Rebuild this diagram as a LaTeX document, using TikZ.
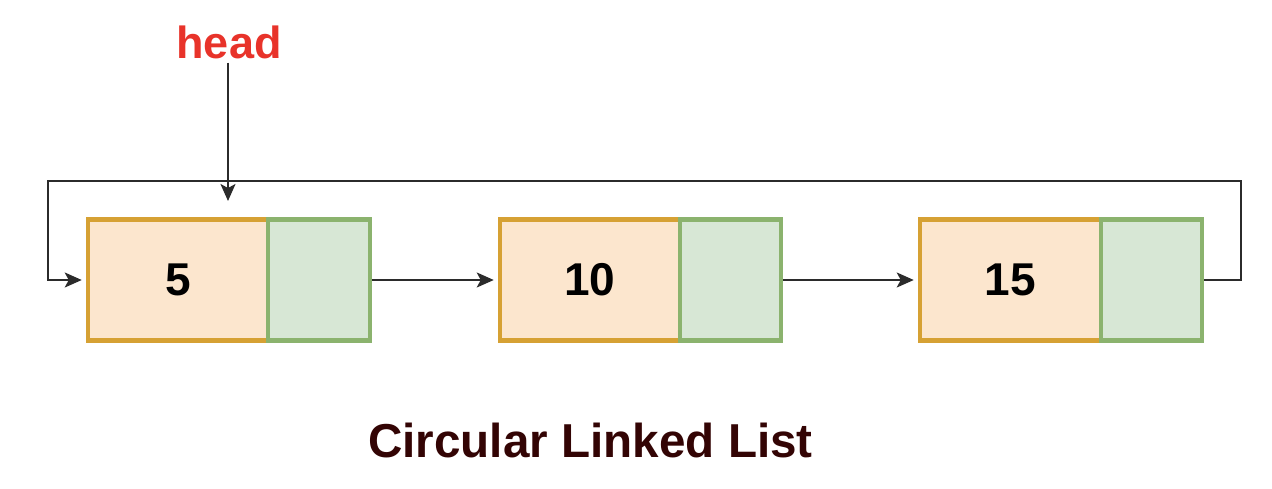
\documentclass[tikz,border=0pt]{standalone}
\usepackage{fontspec}
\setmainfont{Liberation Sans}
\usetikzlibrary{arrows.meta}
\definecolor{ofill}{HTML}{FCE6CE}
\definecolor{odraw}{HTML}{D6A134}
\definecolor{gfill}{HTML}{D7E7D5}
\definecolor{gdraw}{HTML}{8BB36E}
\definecolor{conn}{HTML}{2B2B2B}
\definecolor{headred}{HTML}{E8332A}
\definecolor{titlecol}{HTML}{330404}
\tikzset{
  databox/.style={draw=odraw,fill=ofill,line width=4.5pt,minimum height=121pt,inner sep=0pt,font=\fontsize{46}{52}\selectfont\bfseries},
  ptrbox/.style={draw=gdraw,fill=gfill,line width=4.5pt,minimum height=121pt,inner sep=0pt},
  link/.style={draw=conn,line width=2pt,-{Stealth[length=17pt,width=15pt,inset=4pt]}},
}
\begin{document}
\begin{tikzpicture}[x=1pt,y=-1pt]
\useasboundingbox (0,0) rectangle (1272,488);
\node[databox,minimum width=180pt] (o1) at (178,280) {5};
\node[ptrbox,minimum width=102pt] (g1) at (319,280) {};
\node[databox,minimum width=180pt] (o2) at (590,280) {10};
\node[ptrbox,minimum width=101pt] (g2) at (730.5,280) {};
\node[databox,minimum width=181pt] (o3) at (1010.5,280) {15};
\node[ptrbox,minimum width=101pt] (g3) at (1151.5,280) {};
\node[text=headred,font=\fontsize{45}{50}\selectfont\bfseries,inner sep=0pt] (head) at (229,42) {head};
\coordinate (hp) at (228,201);
\coordinate (r) at (1241,181);
\coordinate (l) at (48,181);
\draw[link] (g1.east) -- ([xshift=-4pt]o2.west);
\draw[link] (g2.east) -- ([xshift=-4pt]o3.west);
\draw[link] (g3.east) -| (r) -- (l) |- ([xshift=-4pt]o1.west);
\draw[link] ([yshift=-4pt]head.south -| hp) -- (hp);
\node[text=titlecol,font=\fontsize{47.6}{54}\selectfont\bfseries] (title) at (590.5,440) {Circular Linked List};
\end{tikzpicture}
\end{document}
